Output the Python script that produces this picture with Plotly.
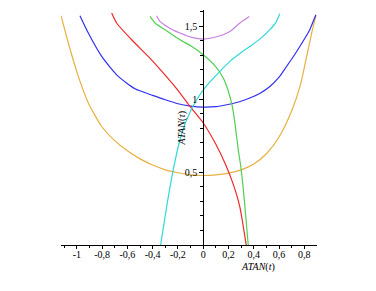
import plotly.graph_objects as go

# Curves
orange_x = [-1.125, -1.067, -0.988, -0.909, -0.803, -0.7, -0.6, -0.5, -0.4, -0.3, -0.2, -0.1, 0.0, 0.1, 0.2, 0.3, 0.4, 0.5, 0.6, 0.7, 0.77, 0.82, 0.86, 0.891]
orange_y = [1.571, 1.384, 1.155, 0.973, 0.812, 0.715, 0.645, 0.59, 0.548, 0.515, 0.495, 0.481, 0.476, 0.48, 0.492, 0.515, 0.555, 0.625, 0.74, 0.92, 1.1, 1.3, 1.46, 1.57]

blue_x = [-0.975, -0.909, -0.803, -0.672, -0.54, -0.4, -0.3, -0.2, -0.1, 0.0, 0.1, 0.185, 0.28, 0.369, 0.45, 0.527, 0.6, 0.659, 0.72, 0.764, 0.81, 0.843, 0.891]
blue_y = [1.571, 1.452, 1.292, 1.155, 1.07, 1.025, 0.995, 0.968, 0.952, 0.945, 0.948, 0.961, 0.98, 1.007, 1.04, 1.086, 1.15, 1.223, 1.30, 1.36, 1.425, 1.475, 1.577]

red_x = [-0.724, -0.685, -0.566, -0.435, -0.303, -0.2, -0.105, 0.0, 0.1, 0.18, 0.24, 0.29, 0.34]
red_y = [1.589, 1.521, 1.406, 1.292, 1.166, 1.06, 0.949, 0.836, 0.69, 0.545, 0.41, 0.26, 0.0]

green_x = [-0.421, -0.382, -0.303, -0.184, -0.09, 0.0, 0.1, 0.16, 0.2, 0.23, 0.25, 0.277, 0.295, 0.315, 0.335, 0.356]
green_y = [1.566, 1.521, 1.475, 1.406, 1.36, 1.303, 1.22, 1.14, 1.05, 0.95, 0.84, 0.653, 0.55, 0.40, 0.21, 0.0]

violet_x = [-0.368, -0.342, -0.25, -0.184, -0.09, 0.0, 0.1, 0.211, 0.29, 0.364]
violet_y = [1.571, 1.532, 1.478, 1.452, 1.422, 1.411, 1.425, 1.463, 1.521, 1.566]

cyan_x = [-0.337, -0.289, -0.237, -0.184, -0.131, -0.052, 0.03, 0.119, 0.211, 0.29, 0.369, 0.45, 0.527, 0.575, 0.606]
cyan_y = [0.0, 0.264, 0.516, 0.721, 0.858, 0.995, 1.095, 1.178, 1.258, 1.312, 1.360, 1.412, 1.475, 1.525, 1.584]

x_tickvals = [-1, -0.8, -0.6, -0.4, -0.2, 0, 0.2, 0.4, 0.6, 0.8]
x_ticktext = ["-1", "-0,8", "-0,6", "-0,4", "-0,2", "0", "0,2", "0,4", "0,6", "0,8"]
x_minor = [-1.1, -0.9, -0.7, -0.5, -0.3, -0.1, 0.1, 0.3, 0.5, 0.7]
y_tickvals = [0.5, 1, 1.5]
y_ticktext = ["0,5", "1", "1,5"]
y_minor = [0.1, 0.2, 0.3, 0.4, 0.6, 0.7, 0.8, 0.9, 1.1, 1.2, 1.3, 1.4, 1.6]

XMIN, XMAX = -1.125, 0.9
YMIN, YMAX = 0, 1.61

series = [
    (orange_x, orange_y, "#E8B040"),
    (blue_x, blue_y, "#3030F0"),
    (red_x, red_y, "#F02828"),
    (green_x, green_y, "#50D050"),
    (violet_x, violet_y, "#C880E0"),
    (cyan_x, cyan_y, "#30D8D8"),
]

fig = go.Figure()
for xs, ys, c in series:
    fig.add_trace(go.Scatter(x=xs, y=ys, mode="lines",
                             line=dict(color=c, width=1.2, shape="spline", smoothing=0.6),
                             showlegend=False, hoverinfo="skip"))

font = dict(family="Liberation Serif, Times New Roman, serif", size=10, color="black")

fig.update_layout(
    width=376, height=291,
    margin=dict(l=53, r=67, t=2, b=54),
    plot_bgcolor="white", paper_bgcolor="white",
    font=font,
    showlegend=False,
    xaxis=dict(range=[XMIN, XMAX], showgrid=False, zeroline=False,
               showline=True, linecolor="black", linewidth=1,
               tickmode="array", tickvals=x_tickvals, ticktext=x_ticktext,
               ticks="outside", ticklen=3, tickcolor="black", tickwidth=1,
               minor=dict(tickmode="array", tickvals=x_minor, ticks="outside",
                          ticklen=2, tickcolor="black", tickwidth=1),
               ticklabelstandoff=-3,
               tickfont=font),
    yaxis=dict(range=[YMIN, YMAX], showgrid=False, zeroline=False,
               anchor="free", position=(0 - XMIN) / (XMAX - XMIN),
               showline=True, linecolor="black", linewidth=1,
               tickmode="array", tickvals=y_tickvals, ticktext=y_ticktext,
               ticks="outside", ticklen=4, tickcolor="black", tickwidth=1,
               minor=dict(tickmode="array", tickvals=y_minor, ticks="outside",
                          ticklen=3, tickcolor="black", tickwidth=1),
               ticklabelstandoff=0,
               tickfont=font),
)

fig.add_annotation(x=0.435, y=0, xref="x", yref="y", text="<i>ATAN</i>(<i>t</i>)",
                   showarrow=False, yshift=-22, font=font)
fig.add_annotation(x=0, y=0.80, xref="x", yref="y", text="<i>ATAN</i>(<i>τ</i>)",
                   showarrow=False, textangle=-90, xshift=-21, font=font)

fig.write_html("out.html")
